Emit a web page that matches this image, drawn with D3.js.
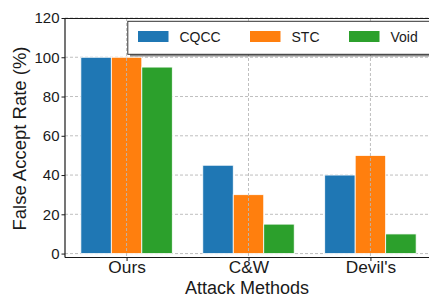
<!DOCTYPE html>
<html><head><meta charset="utf-8">
<script src="https://cdn.jsdelivr.net/npm/d3@7"></script>
<style>body{margin:0;background:#fff}svg{display:block}text{font-family:"Liberation Sans",Arial,sans-serif;fill:#1a1a1a}</style>
</head><body>
<script>
const categories = ["Ours", "C&W", "Devil's"];
const seriesNames = ["CQCC", "STC", "Void"];
const cqcc = [100, 45, 40];
const stc = [100, 30, 50];
const voidVals = [95, 15, 10];
const yTicks = [0, 20, 40, 60, 80, 100, 120];
const colors = ["#1f77b4", "#ff7f0e", "#2ca02c"];
const series = [cqcc, stc, voidVals];

const W = 429, H = 297;
const svg = d3.select("body").append("svg").attr("width", W).attr("height", H);
const x = d3.scaleLinear().domain([-0.505, 2.505]).range([65, 432]);
const y = d3.scaleLinear().domain([-2, 120]).range([257.5, 18]);
const bw = 0.25;
const ink = "#1a1a1a";

// horizontal grid (behind bars)
svg.append("g").selectAll("line").data(yTicks).join("line")
  .attr("x1", 65).attr("x2", W).attr("y1", d => y(d)).attr("y2", d => y(d))
  .attr("stroke", "#b8b8b8").attr("stroke-width", 0.9).attr("stroke-dasharray", "3,2");

// bars
series.forEach((vals, si) => {
  svg.append("g").selectAll("rect").data(vals).join("rect")
    .attr("x", (d, i) => x(i + (si - 1) * bw - bw / 2))
    .attr("width", x(bw) - x(0))
    .attr("y", d => y(d))
    .attr("height", d => y(0) - y(d))
    .attr("fill", colors[si]).attr("stroke", "#fff").attr("stroke-width", 0.8);
});

// vertical grid (on top)
svg.append("g").selectAll("line").data(categories).join("line")
  .attr("x1", (d, i) => x(i)).attr("x2", (d, i) => x(i))
  .attr("y1", 18).attr("y2", y(-2))
  .attr("stroke", "#b8b8b8").attr("stroke-width", 0.9).attr("stroke-dasharray", "3,2");

// axes via d3
const yAxis = d3.axisLeft(y).tickValues(yTicks).tickSize(3.5).tickPadding(2);
const gy = svg.append("g").attr("transform", "translate(65,0)").call(yAxis);
gy.select(".domain").remove();
gy.selectAll("line").attr("stroke", ink);
gy.selectAll("text").attr("font-size", 15).attr("fill", ink).attr("font-family", "Liberation Sans, Arial, sans-serif");

const xAxis = d3.axisBottom(x).tickValues([0, 1, 2]).tickFormat(i => categories[i]).tickSize(3.5).tickPadding(0);
const gx = svg.append("g").attr("transform", "translate(0,257.5)").call(xAxis);
gx.select(".domain").remove();
gx.selectAll("line").attr("stroke", ink);
gx.selectAll("text").attr("font-size", 17.3).attr("fill", ink).attr("font-family", "Liberation Sans, Arial, sans-serif");

// spines
svg.append("line").attr("x1", 65).attr("x2", 65).attr("y1", 18).attr("y2", 257.5).attr("stroke", ink).attr("stroke-width", 1.2);
svg.append("line").attr("x1", 65).attr("x2", W).attr("y1", 257.5).attr("y2", 257.5).attr("stroke", ink).attr("stroke-width", 1.2);
svg.append("line").attr("x1", 65).attr("x2", W).attr("y1", 18.5).attr("y2", 18.5).attr("stroke", ink).attr("stroke-width", 1.2);

// legend
const lg = svg.append("g");
lg.append("rect").attr("x", 130).attr("y", 23.5).attr("width", 320).attr("height", 33).attr("fill", "#000").attr("opacity", 0.45);
lg.append("rect").attr("x", 127.8).attr("y", 21.3).attr("width", 320).attr("height", 33).attr("fill", "#fff").attr("stroke", "#333").attr("stroke-width", 1);
const legX = [138, 250, 349];
seriesNames.forEach((n, i) => {
  lg.append("rect").attr("x", legX[i]).attr("y", 31).attr("width", 30.5).attr("height", 11).attr("fill", colors[i]);
  lg.append("text").attr("x", legX[i] + 41.5).attr("y", 41.5).attr("font-size", 14).text(n);
});

// axis labels
svg.append("text").attr("x", 247).attr("y", 293.5).attr("text-anchor", "middle").attr("font-size", 18).text("Attack Methods");
svg.append("text").attr("transform", "translate(25.5,138.5) rotate(-90)").attr("text-anchor", "middle").attr("font-size", 18.5).text("False Accept Rate (%)");
</script>
</body></html>
